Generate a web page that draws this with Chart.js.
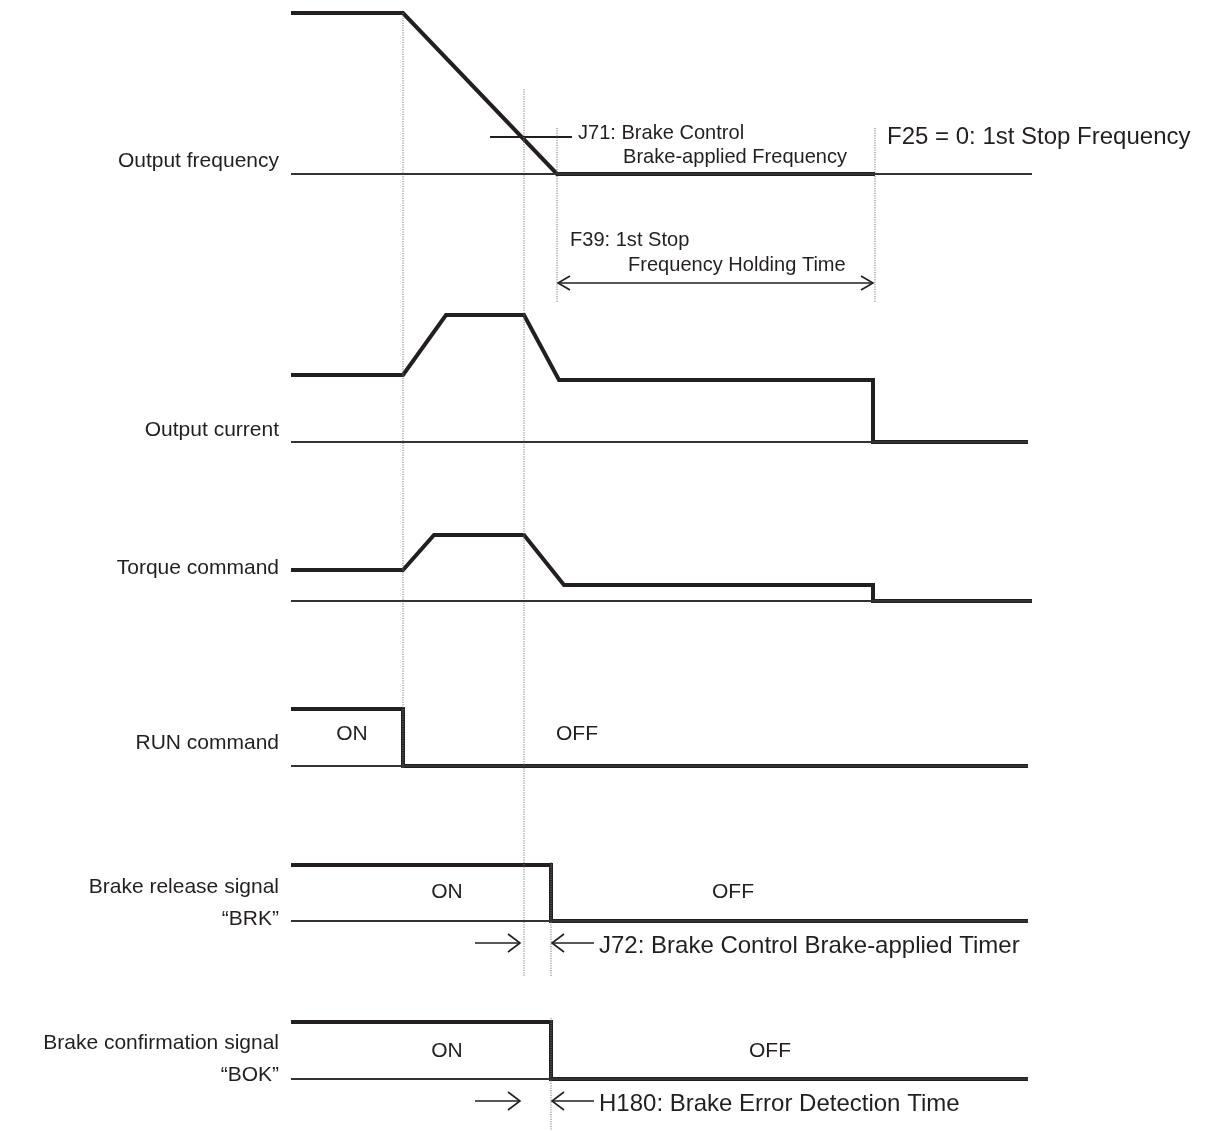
<!DOCTYPE html>
<html>
<head>
<meta charset="utf-8">
<script src="https://cdn.jsdelivr.net/npm/chart.js@4"></script>
<style>
  body { margin: 0; background: #fff; }
  #wrap { width: 1206px; height: 1131px; }
</style>
</head>
<body>
<div id="wrap"><canvas id="chart"></canvas></div>
<script>
// rows of the timing diagram: baseline level and where the baseline ends
const rowBase = [174, 442, 601, 766, 921, 1079];
const rowEnd = [1032, 1028, 1032, 1028, 1028, 1028];
const startT = 291;

// signal break points: time and height above the row baseline
const freqT = [291, 403, 557, 875];
const freqH = [161, 161, 0, 0];
const currT = [291, 403, 446, 524, 559, 873, 873, 1028];
const currH = [67, 67, 127, 127, 62, 62, 0, 0];
const torqT = [291, 403, 434, 524, 564, 873, 873, 1032];
const torqH = [31, 31, 66, 66, 16, 16, 0, 0];
const runT = [291, 403, 403, 1028];
const runH = [57, 57, 0, 0];
const brkT = [291, 551, 551, 1028];
const brkH = [56, 56, 0, 0];
const bokT = [291, 551, 551, 1028];
const bokH = [57, 57, 0, 0];

// J71 brake-applied frequency level (height above freq baseline)
const j71T = [490, 572];
const j71H = 37;

// dotted event markers: time, top, bottom
const markT = [403, 524, 557, 875, 551, 551];
const markTop = [13, 89, 128, 128, 862, 1018];
const markBot = [768, 977, 303, 303, 977, 1130];

// time spans shown with arrows
const f39Span = [558, 873];
const j72Span = [520, 552];
const h180Span = [520, 552];

const ink = "#231f20";
const rowLabels = [
  ["Output frequency"],
  ["Output current"],
  ["Torque command"],
  ["RUN command"],
  ["Brake release signal", "\u201cBRK\u201d"],
  ["Brake confirmation signal", "\u201cBOK\u201d"],
];
const rowLabelY = [161, 430, 568, 743, 887, 1043];

const pts = (ts, hs, base) => ts.map((t, i) => ({ x: t, y: base - hs[i] }));

const datasets = [];
// thin baselines
rowBase.forEach((b, i) => {
  datasets.push({
    data: [{ x: startT, y: b }, { x: rowEnd[i], y: b }],
    borderColor: "#333", borderWidth: 1.8,
  });
});
// dotted markers
markT.forEach((t, i) => {
  datasets.push({
    data: [{ x: t, y: markTop[i] }, { x: t, y: markBot[i] }],
    borderColor: "#7a7a7a", borderWidth: 1, borderDash: [1.2, 1.2],
  });
});
// J71 level line
datasets.push({
  data: j71T.map(t => ({ x: t, y: rowBase[0] - j71H })),
  borderColor: ink, borderWidth: 1.8,
});
// arrow shafts
const spanY = [283, 943, 1101];
datasets.push({ data: [{ x: f39Span[0], y: spanY[0] }, { x: f39Span[1], y: spanY[0] }], borderColor: ink, borderWidth: 1.6 });
datasets.push({ data: [{ x: 475, y: spanY[1] }, { x: j72Span[0], y: spanY[1] }], borderColor: ink, borderWidth: 1.6 });
datasets.push({ data: [{ x: j72Span[1], y: spanY[1] }, { x: 594, y: spanY[1] }], borderColor: ink, borderWidth: 1.6 });
datasets.push({ data: [{ x: 475, y: spanY[2] }, { x: h180Span[0], y: spanY[2] }], borderColor: ink, borderWidth: 1.6 });
datasets.push({ data: [{ x: h180Span[1], y: spanY[2] }, { x: 594, y: spanY[2] }], borderColor: ink, borderWidth: 1.6 });
// thick signals
[[freqT, freqH], [currT, currH], [torqT, torqH], [runT, runH], [brkT, brkH], [bokT, bokH]].forEach(([t, h], i) => {
  datasets.push({
    data: pts(t, h, rowBase[i]),
    borderColor: ink, borderWidth: 4, borderJoinStyle: "miter", borderCapStyle: "butt",
  });
});

// sx: horizontal squeeze for the narrow callout lettering
const texts = [
  { s: "J71: Brake Control", x: 578, y: 133, size: 21, sx: 0.955 },
  { s: "Brake-applied Frequency", x: 623, y: 157, size: 21, sx: 0.955 },
  { s: "F25 = 0: 1st Stop Frequency", x: 887, y: 137, size: 24 },
  { s: "F39: 1st Stop", x: 570, y: 240, size: 21, sx: 0.955 },
  { s: "Frequency Holding Time", x: 628, y: 265, size: 21, sx: 0.955 },
  { s: "ON", x: 352, y: 734, size: 21, c: true },
  { s: "OFF", x: 577, y: 734, size: 21, c: true },
  { s: "ON", x: 447, y: 892, size: 21, c: true },
  { s: "OFF", x: 733, y: 892, size: 21, c: true },
  { s: "ON", x: 447, y: 1051, size: 21, c: true },
  { s: "OFF", x: 770, y: 1051, size: 21, c: true },
  { s: "J72: Brake Control Brake-applied Timer", x: 599, y: 946, size: 24 },
  { s: "H180: Brake Error Detection Time", x: 599, y: 1104, size: 24 },
];

const head = (ctx, x, y, dir, len, w) => {
  ctx.beginPath();
  ctx.moveTo(x - dir * len, y - w);
  ctx.lineTo(x, y);
  ctx.lineTo(x - dir * len, y + w);
  ctx.stroke();
};

const annotations = {
  id: "annotations",
  afterDatasetsDraw(chart) {
    const { ctx, scales: { x, y } } = chart;
    ctx.save();
    ctx.fillStyle = ink;
    ctx.strokeStyle = ink;
    ctx.lineWidth = 1.6;
    ctx.textBaseline = "middle";
    // row labels
    ctx.textAlign = "right";
    ctx.font = "21px 'Liberation Sans', Arial, sans-serif";
    rowLabels.forEach((lines, i) => {
      lines.forEach((s, k) => ctx.fillText(s, 279, y.getPixelForValue(rowLabelY[i] + k * 32)));
    });
    texts.forEach(t => {
      ctx.font = t.size + "px 'Liberation Sans', Arial, sans-serif";
      ctx.textAlign = t.c ? "center" : "left";
      const sx = t.sx || 1;
      ctx.save();
      ctx.translate(x.getPixelForValue(t.x), y.getPixelForValue(t.y));
      ctx.scale(sx, 1);
      ctx.fillText(t.s, 0, 0);
      ctx.restore();
    });
    // arrow heads
    const py = v => y.getPixelForValue(v);
    const px = v => x.getPixelForValue(v);
    head(ctx, px(f39Span[0]), py(spanY[0]), -1, 12, 7);
    head(ctx, px(f39Span[1]), py(spanY[0]), 1, 12, 7);
    head(ctx, px(j72Span[0]), py(spanY[1]), 1, 12, 9);
    head(ctx, px(j72Span[1]), py(spanY[1]), -1, 12, 9);
    head(ctx, px(h180Span[0]), py(spanY[2]), 1, 12, 9);
    head(ctx, px(h180Span[1]), py(spanY[2]), -1, 12, 9);
    ctx.restore();
  },
};

new Chart(document.getElementById("chart"), {
  type: "scatter",
  data: { datasets: datasets.map(d => ({ showLine: true, pointRadius: 0, fill: false, tension: 0, ...d })) },
  options: {
    responsive: true,
    maintainAspectRatio: false,
    animation: false,
    layout: { padding: 0 },
    scales: {
      x: { type: "linear", display: false, min: 0, max: 1206 },
      y: { type: "linear", display: false, min: 0, max: 1131, reverse: true },
    },
    plugins: { legend: { display: false }, tooltip: { enabled: false } },
  },
  plugins: [annotations],
});
</script>
</body>
</html>
